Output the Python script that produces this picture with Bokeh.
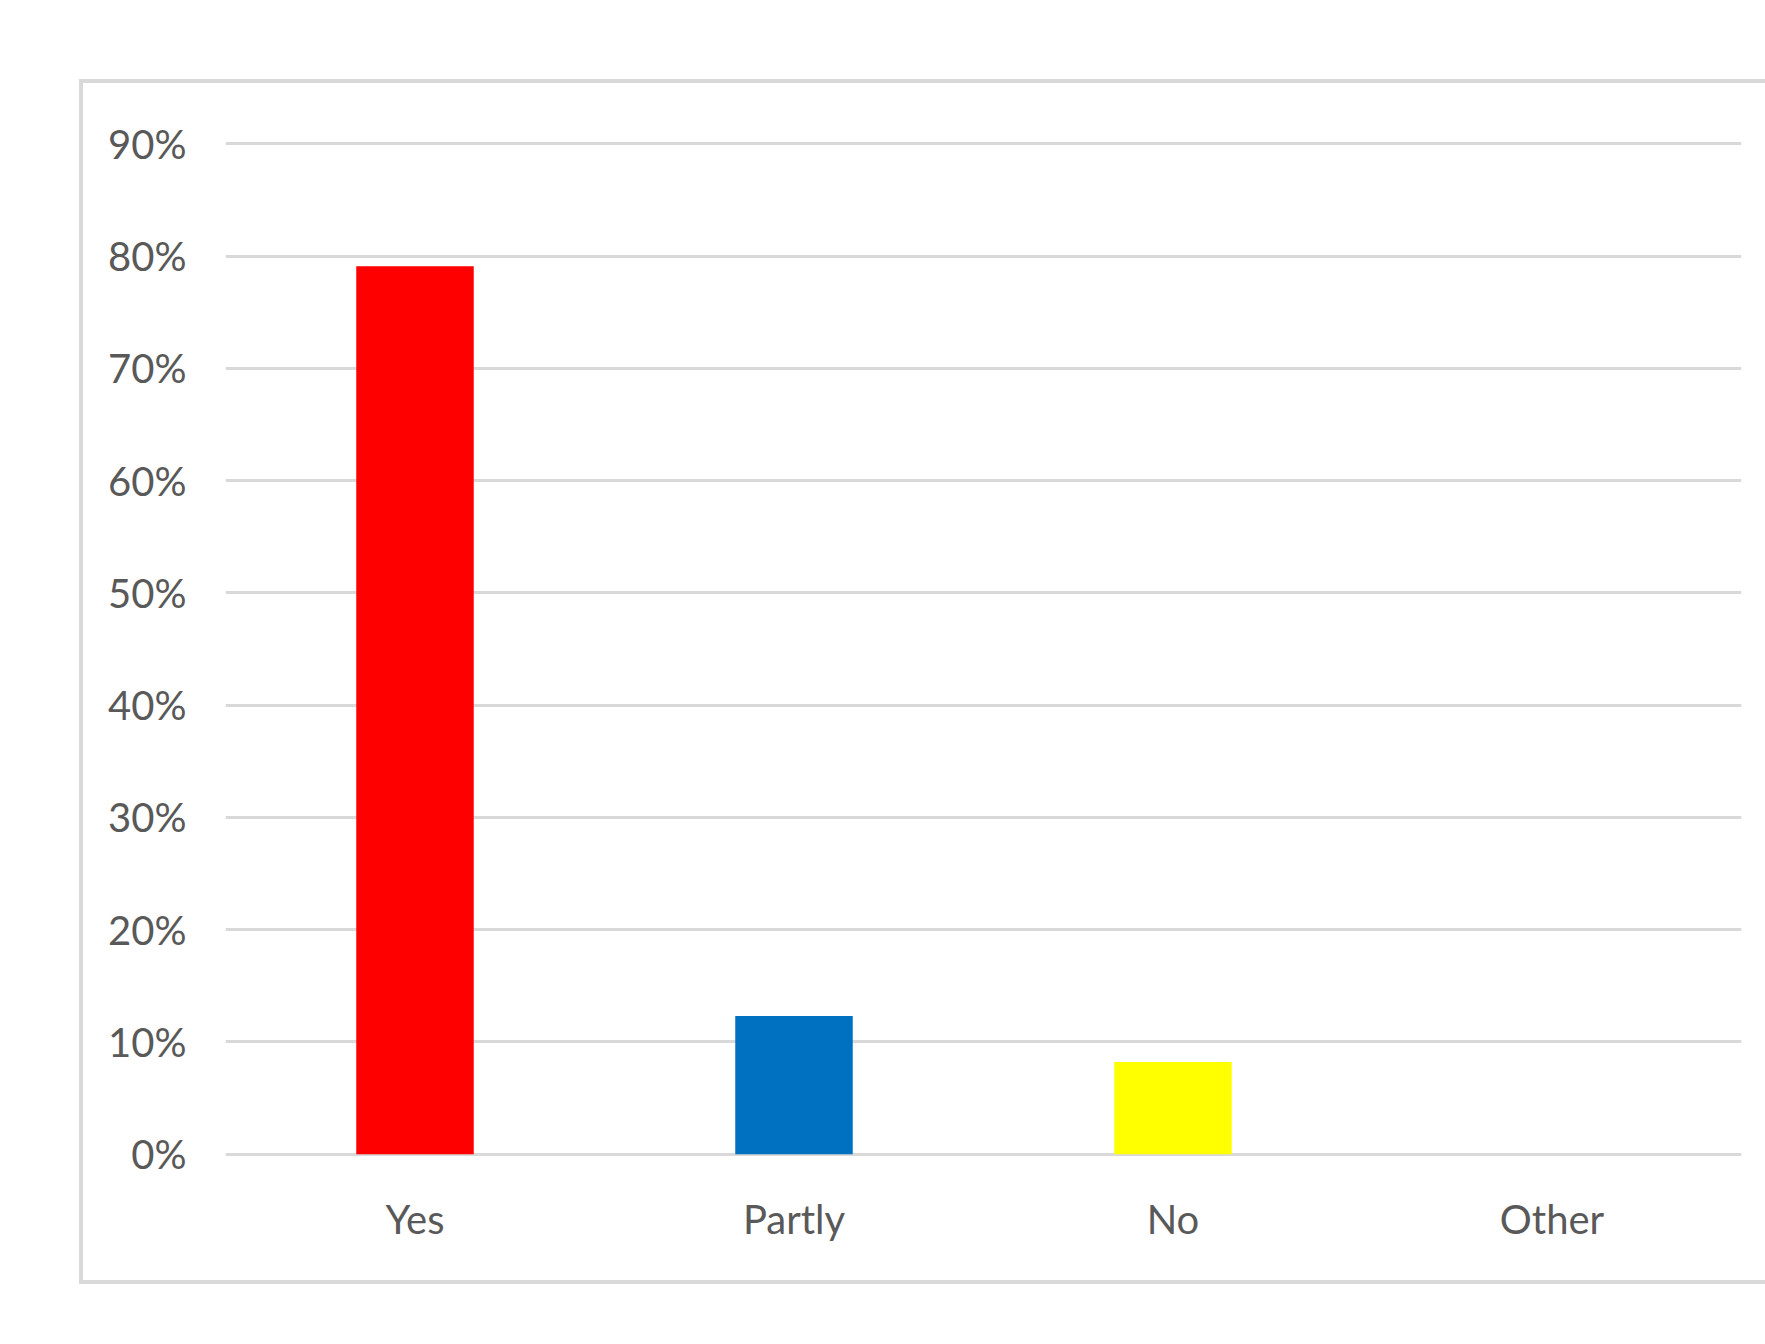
from bokeh.plotting import figure
from bokeh.models import FactorRange, Range1d, NumeralTickFormatter, FixedTicker, ColumnDataSource
from bokeh.embed import file_html
from bokeh.resources import INLINE

categories = ["Yes", "Partly", "No", "Other"]
values = [0.791, 0.123, 0.082, 0.0]
colors = ["#ff0000", "#0070c0", "#ffff00", "#a5a5a5"]
y_ticks = [0.0, 0.1, 0.2, 0.3, 0.4, 0.5, 0.6, 0.7, 0.8, 0.9]

FONT = "Lato"

src = ColumnDataSource(dict(cat=categories, val=values, color=colors))

p = figure(width=1682, height=1197, x_range=FactorRange(*categories, range_padding=0),
           y_range=Range1d(-0.003, 0.903), output_backend="svg", toolbar_location=None,
           min_border_left=142, min_border_right=24, min_border_top=57, min_border_bottom=123)
p.margin = (83, 0, 0, 83)
p.styles = {"outline": "4px solid #d9d9d9", "outline-offset": "0px"}

p.vbar(x="cat", top="val", width=0.31, color="color", source=src, line_color=None)

p.outline_line_color = None
p.background_fill_color = "white"
p.border_fill_color = "white"

p.xgrid.grid_line_color = None
p.ygrid.grid_line_color = "#d9d9d9"
p.ygrid.grid_line_width = 3
p.ygrid.ticker = FixedTicker(ticks=y_ticks)

p.yaxis.ticker = FixedTicker(ticks=y_ticks)
p.yaxis.formatter = NumeralTickFormatter(format="0%")
for ax in (p.xaxis[0], p.yaxis[0]):
    ax.axis_line_color = None
    ax.major_tick_line_color = None
    ax.minor_tick_line_color = None
    ax.major_label_text_font = FONT
    ax.major_label_text_font_size = "40px"
    ax.major_label_text_color = "#595959"
p.yaxis.major_label_standoff = 33
p.xaxis.major_label_standoff = 31

open("out.html", "w").write(file_html(p, INLINE))
